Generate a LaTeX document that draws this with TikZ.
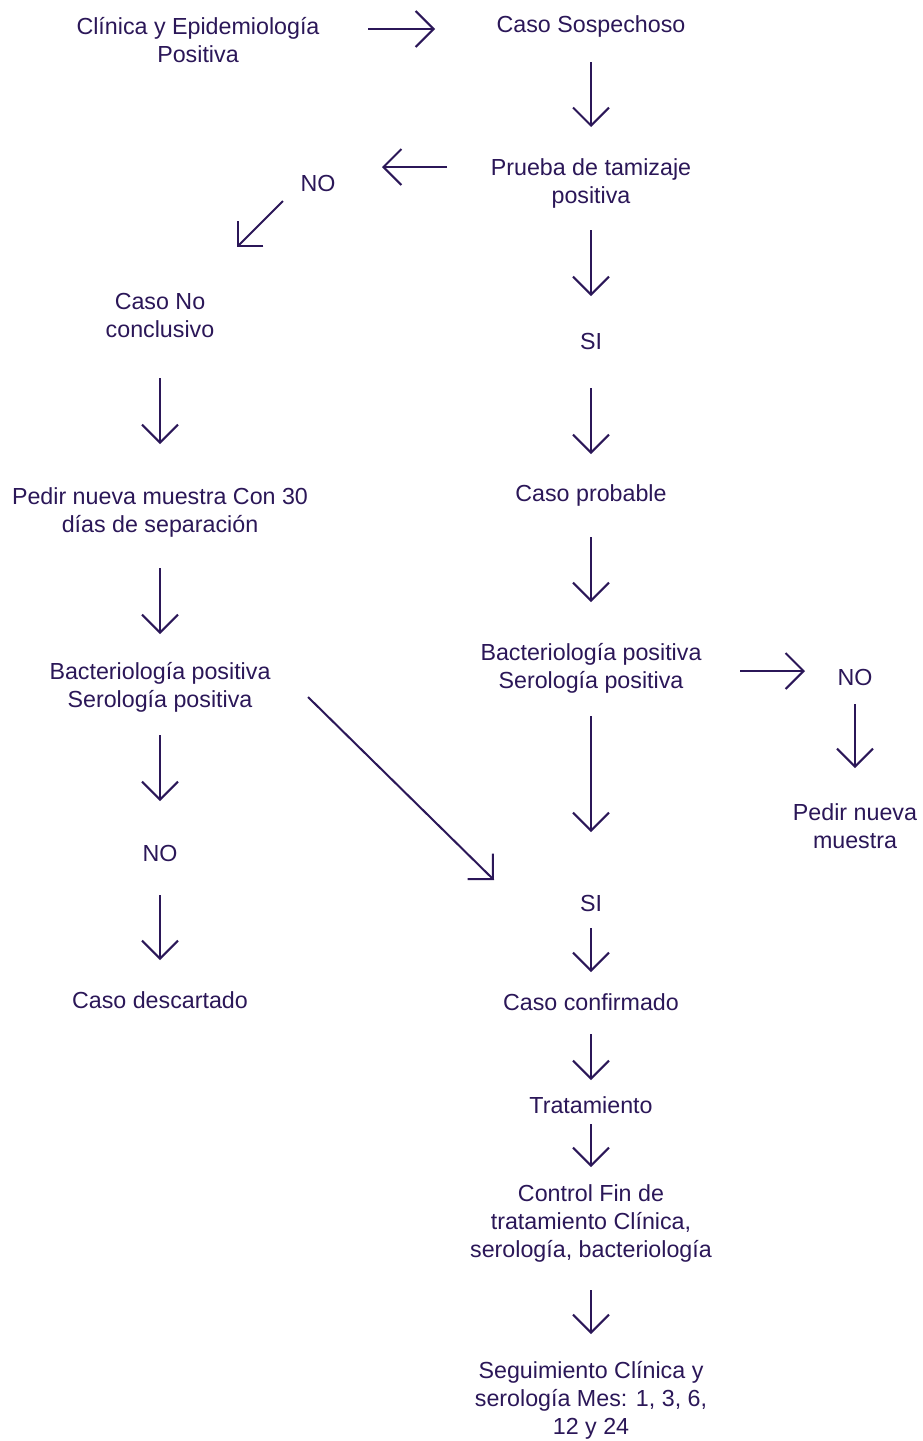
\documentclass[tikz,border=0pt]{standalone}
\usepackage{fontspec}
\setmainfont{Liberation Sans}
\usetikzlibrary{arrows.meta}
\definecolor{ink}{HTML}{2B1758}
\begin{document}
\begin{tikzpicture}[x=1pt,y=-1pt,
  lbl/.style={text=ink,align=center,inner sep=0pt,yshift=-2pt,
    font=\fontsize{23.25}{28}\selectfont},
  flow/.style={draw=ink,line width=2pt,
    -{Straight Barb[length=18pt,width=36pt,line width=2pt]}}]
\useasboundingbox[fill=white] (0,0) rectangle (922,1441);

% text nodes
\node[lbl] (clin)  at (198,38)   {Clínica y Epidemiología\\Positiva};
\node[lbl] (sosp)  at (591,24)   {Caso Sospechoso};
\node[lbl] (tam)   at (591,181)  {Prueba de tamizaje\\positiva};
\node[lbl] (no1)   at (318,181)  {NO};
\node[lbl] (nocon) at (160,313)  {Caso No\\conclusivo};
\node[lbl] (si1)   at (591,339)  {SI};
\node[lbl] (nueva) at (160,510)  {Pedir nueva muestra Con 30\\días de separación};
\node[lbl] (prob)  at (591,493)  {Caso probable};
\node[lbl] (bacL)  at (160,685)  {Bacteriología positiva\\Serología positiva};
\node[lbl] (bacR)  at (591,666)  {Bacteriología positiva\\Serología positiva};
\node[lbl] (no2)   at (855,675)  {NO};
\node[lbl] (pedir) at (855,824)  {Pedir nueva\\muestra};
\node[lbl] (no3)   at (160,851)  {NO};
\node[lbl] (si2)   at (591,901)  {SI};
\node[lbl] (desc)  at (160,998)  {Caso descartado};
\node[lbl] (conf)  at (591,1000) {Caso confirmado};
\node[lbl] (trat)  at (591,1103) {Tratamiento};
\node[lbl] (ctrl)  at (591,1221) {Control Fin de\\tratamiento Clínica,\\serología, bacteriología};
\node[lbl] (seg)   at (591,1398) {Seguimiento Clínica y\\serología Mes: 1, 3, 6,\\12 y 24};

% arrow end points
\coordinate (a1s) at (368,29);   \coordinate (a1e) at (435,29);
\coordinate (a2s) at (591,62);   \coordinate (a2e) at (591,127);
\coordinate (a3s) at (447,167);  \coordinate (a3e) at (382,167);
\coordinate (a4s) at (283,201);  \coordinate (a4e) at (237,247);
\coordinate (a5s) at (591,230);  \coordinate (a5e) at (591,296);
\coordinate (a6s) at (160,378);  \coordinate (a6e) at (160,444);
\coordinate (a7s) at (591,388);  \coordinate (a7e) at (591,454);
\coordinate (a8s) at (591,537);  \coordinate (a8e) at (591,602);
\coordinate (a9s) at (160,568);  \coordinate (a9e) at (160,634);
\coordinate (b1s) at (740,671);  \coordinate (b1e) at (805,671);
\coordinate (b2s) at (855,704);  \coordinate (b2e) at (855,768);
\coordinate (b3s) at (591,716);  \coordinate (b3e) at (591,832);
\coordinate (b4s) at (160,735);  \coordinate (b4e) at (160,801);
\coordinate (b5s) at (308,697);  \coordinate (b5e) at (494,880);
\coordinate (b6s) at (160,895);  \coordinate (b6e) at (160,960);
\coordinate (b7s) at (591,928);  \coordinate (b7e) at (591,972);
\coordinate (b8s) at (591,1034); \coordinate (b8e) at (591,1080);
\coordinate (b9s) at (591,1124); \coordinate (b9e) at (591,1167);
\coordinate (c1s) at (591,1290); \coordinate (c1e) at (591,1334);

% connectors
\foreach \a in {a1,a2,a3,a4,a5,a6,a7,a8,a9,b1,b2,b3,b4,b5,b6,b7,b8,b9,c1}
  \draw[flow] (\a s) -- (\a e);
\end{tikzpicture}
\end{document}
